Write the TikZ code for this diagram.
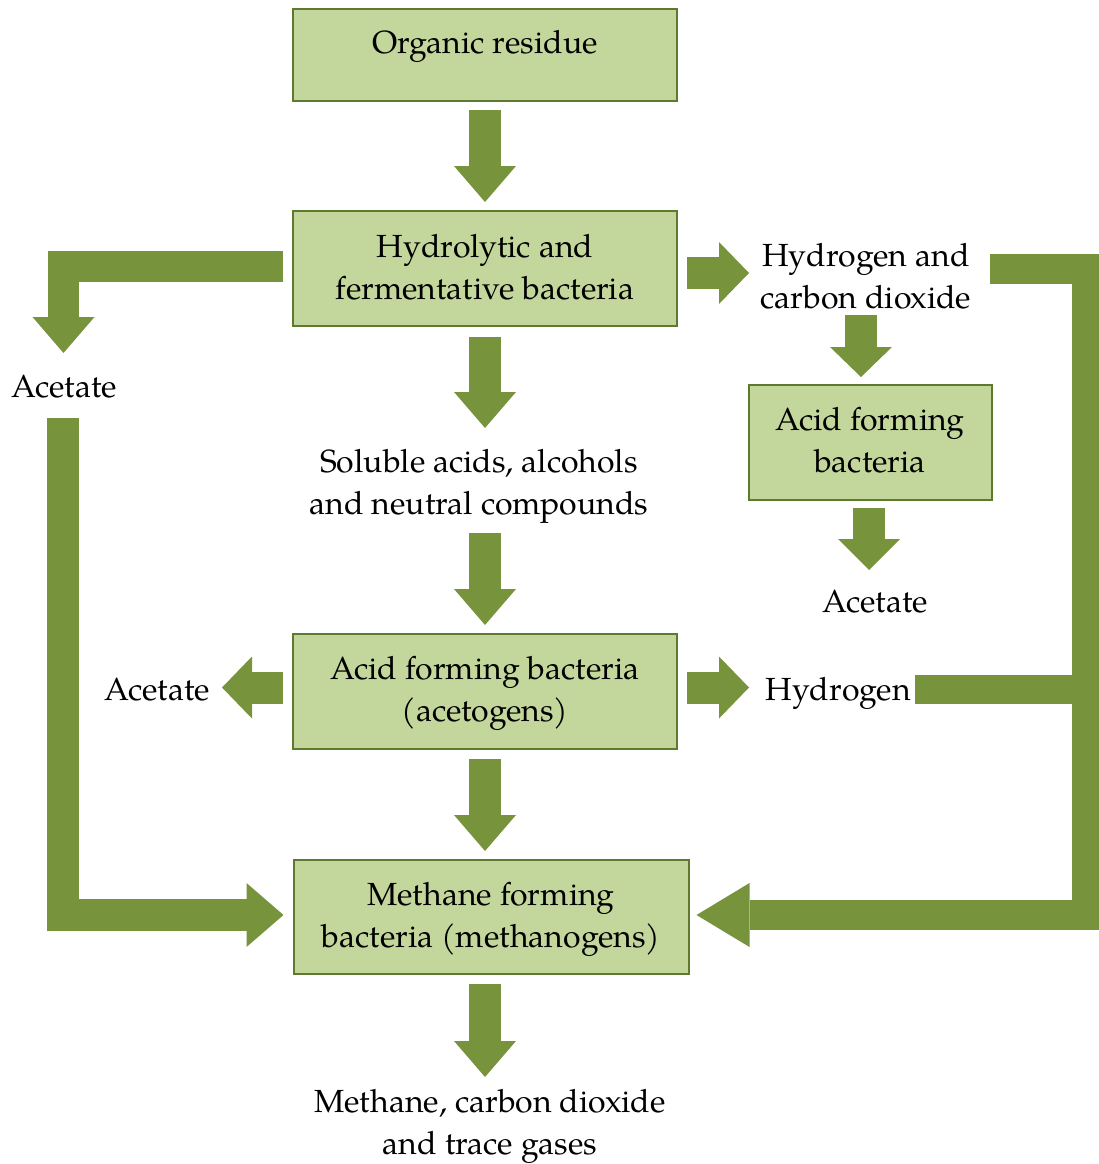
\documentclass[tikz,border=0pt]{standalone}
\usepackage{fontspec}
\setmainfont{texgyrepagella-regular.otf}
\usetikzlibrary{arrows.meta,calc}
\definecolor{boxfill}{HTML}{C3D69B}
\definecolor{boxline}{HTML}{5E7A2E}
\definecolor{arrgreen}{HTML}{77933C}
\newcommand\twol[2]{\begin{tabular}[t]{@{}c@{}}#1\\#2\end{tabular}}
\begin{document}
\begin{tikzpicture}[x=1pt,y=-1pt,
  box/.style={draw=boxline, fill=boxfill, line width=2pt, inner sep=0pt, outer sep=0pt},
  txt/.style={font=\fontsize{32pt}{42pt}\selectfont, inner sep=0pt, anchor=base, text=black},
  ar/.style n args={3}{draw=arrgreen, line width=#1, -{Triangle[length=#2,width=#3,line width=0pt]}},
  bar/.style={draw=arrgreen, line width=#1}]
\useasboundingbox (0,0) rectangle (1099,1164);
% boxes
\node[box, minimum width=384pt, minimum height=92pt] (org) at (485,55) {};
\node[box, minimum width=384pt, minimum height=115pt] (hyd) at (485,268.5) {};
\node[box, minimum width=243pt, minimum height=115pt] (afb) at (870,442.5) {};
\node[box, minimum width=384pt, minimum height=115pt] (acg) at (485,691.5) {};
\node[box, minimum width=395pt, minimum height=114pt] (mfb) at (491,917) {};
% texts
\node[txt] (orgT) at (485,53) {Organic residue};
\node[txt] (hydT) at (485,257) {\twol{Hydrolytic and}{fermentative bacteria}};
\node[txt] (h2) at (866,266) {\twol{Hydrogen and}{carbon dioxide}};
\node[txt] (afbT) at (870,430) {\twol{Acid forming}{bacteria}};
\node[txt] (acR) at (875,612) {Acetate};
\node[txt] (acL) at (64,397) {Acetate};
\node[txt] (sol) at (479,472) {\twol{Soluble acids, alcohols}{and neutral compounds}};
\node[txt] (acgT) at (485,679) {\twol{Acid forming bacteria}{(acetogens)}};
\node[txt] (acM) at (157,700) {Acetate};
\node[txt] (hy) at (838,700) {Hydrogen};
\node[txt] (mfbT) at (491,905) {\twol{Methane forming}{bacteria (methanogens)}};
\node[txt] (out) at (490,1112) {\twol{Methane, carbon dioxide}{and trace gases}};
\coordinate (rt) at (1087,689.5);
% main column
\draw[ar={32pt}{36pt}{62pt}] ($(org.south)+(0,9)$) -- ($(hyd.north)+(0,-9)$);
\draw[ar={32pt}{36pt}{62pt}] ($(hyd.south)+(0,11)$) -- ($(sol.base -| hyd.south)+(0,-44)$);
\draw[ar={32pt}{36pt}{62pt}] ($(sol.base -| acg.north)+(0,61)$) -- ($(acg.north)+(0,-9)$);
\draw[ar={32pt}{36pt}{62pt}] ($(acg.south)+(0,10)$) -- ($(mfb.north -| acg.south)+(0,-9)$);
\draw[ar={32pt}{36pt}{62pt}] ($(mfb.south -| acg.south)+(0,10)$) -- ($(out.base -| acg.south)+(0,-35)$);
% right column
\draw[ar={32pt}{30pt}{62pt}] ($(h2.base)+(-5,49)$) -- ($(afb.north)+(-9,-8)$);
\draw[ar={32pt}{31pt}{62pt}] ($(afb.south)+(-1,8)$) -- ($(acR.base)+(-6,-42)$);
% side arrows
\draw[ar={32pt}{30pt}{62pt}] ($(hyd.east)+(10,4.5)$) -- ($(hyd.east)+(72,4.5)$);
\draw[ar={32pt}{30pt}{62pt}] ($(acg.east)+(10,-4)$) -- ($(hy.base)+(-89,-12.5)$);
\draw[ar={32pt}{30pt}{62pt}] ($(acg.west)+(-10,-4)$) -- ($(acM.base)+(65,-12.5)$);
% elbows
\draw[ar={31pt}{36pt}{62pt}] ($(hyd.west)+(-10,-2.5)$) -| ($(acL.base)+(-0.5,-44)$);
\draw[ar={32pt}{37pt}{64pt}] ($(acL.base)+(-1,21)$) |- ($(mfb.west)+(-10,-2)$);
\draw[ar={30pt}{53pt}{64pt}] ($(h2.base)+(124,2.5)$) -| (rt) |- ($(mfb.east)+(8,-2)$);
\draw[bar=29pt] ($(hy.base)+(77,-10.5)$) -- (rt);
\end{tikzpicture}
\end{document}
